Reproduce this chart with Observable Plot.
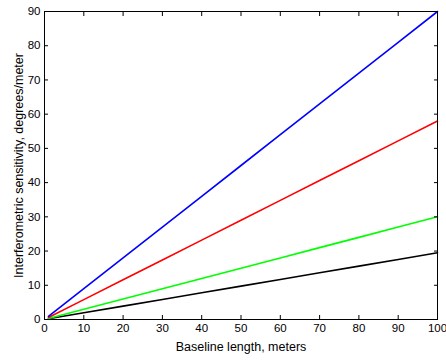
<!DOCTYPE html>
<html>
<head>
<meta charset="utf-8">
<script src="https://cdn.jsdelivr.net/npm/d3@7"></script>
<script src="https://cdn.jsdelivr.net/npm/@observablehq/plot@0.6"></script>
<style>
  html, body { margin: 0; padding: 0; background: #fff; }
  #chart svg { display: block; }
</style>
</head>
<body>
<div id="chart"></div>
<script>
const baseline = [1, 10, 20, 30, 40, 50, 60, 70, 80, 90, 100];
const blueSeries = [0.9, 9, 18, 27, 36, 45, 54, 63, 72, 81, 90];
const redSeries = [0.6, 5.8, 11.6, 17.4, 23.2, 29, 34.8, 40.6, 46.4, 52.2, 58];
const greenSeries = [0.3, 3, 6, 9, 12, 15, 18, 21, 24, 27, 30];
const blackSeries = [0.2, 1.95, 3.9, 5.85, 7.8, 9.75, 11.7, 13.65, 15.6, 17.55, 19.5];
const xTicks = [0, 10, 20, 30, 40, 50, 60, 70, 80, 90, 100];
const yTicks = [0, 10, 20, 30, 40, 50, 60, 70, 80, 90];
const xLabel = "Baseline length, meters";
const yLabel = "Interferometric sensitivity, degrees/meter";

const series = [
  {name: "black", color: "#000000", values: blackSeries},
  {name: "green", color: "#00ff00", values: greenSeries},
  {name: "red", color: "#ff0000", values: redSeries},
  {name: "blue", color: "#0000ff", values: blueSeries}
];
const rows = series.flatMap(s => baseline.map((x, i) => ({x, y: s.values[i], name: s.name, color: s.color})));

const font = "Liberation Sans, Arial, Helvetica, sans-serif";
const plot = Plot.plot({
  width: 446,
  height: 360,
  marginLeft: 44,
  marginRight: 9,
  marginTop: 11,
  marginBottom: 41,
  style: {fontFamily: font, fontSize: "11.5px", color: "#000", background: "#fff"},
  x: {domain: [0, 100]},
  y: {domain: [0, 90]},
  marks: [
    Plot.line(rows, {x: "x", y: "y", z: "name", stroke: "color", strokeWidth: 1.6}),
    Plot.frame({stroke: "#000", strokeWidth: 1}),
    Plot.axisX(xTicks, {anchor: "bottom", tickSize: -4, tickPadding: 8, fontSize: 11.5, label: null}),
    Plot.axisX(xTicks, {anchor: "top", tickSize: -4, tickFormat: () => "", label: null}),
    Plot.axisY(yTicks, {anchor: "left", tickSize: -4, tickPadding: 8, fontSize: 11.5, label: null}),
    Plot.axisY(yTicks, {anchor: "right", tickSize: -4, tickFormat: () => "", label: null}),
    Plot.text([xLabel], {text: d => d, frameAnchor: "bottom", dy: 27, lineAnchor: "middle", textAnchor: "middle", fontSize: 12.5, fill: "#000"}),
    Plot.text([yLabel], {text: d => d, frameAnchor: "left", dx: -26, rotate: -90, lineAnchor: "middle", textAnchor: "middle", fontSize: 12.5, fill: "#000"})
  ]
});
document.getElementById("chart").appendChild(plot);
</script>
</body>
</html>
